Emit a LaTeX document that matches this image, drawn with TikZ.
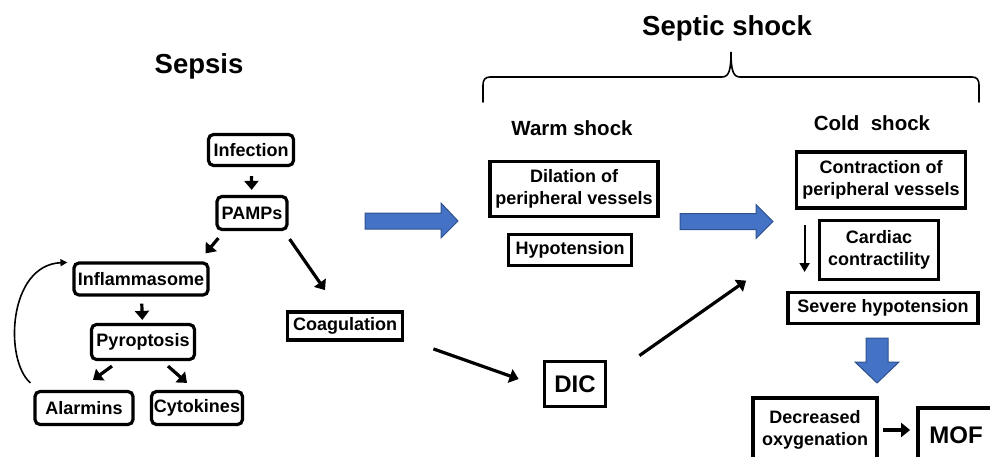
\documentclass[tikz,border=0pt]{standalone}
\usepackage{fontspec}
\setmainfont{Liberation Sans}
\usetikzlibrary{arrows.meta,calc}
\definecolor{shockblue}{HTML}{4472C4}
\definecolor{shockedge}{HTML}{2F528F}

\begin{document}
\begin{tikzpicture}[x=1pt,y=-1pt,
  boxfont/.style={font=\bfseries\fontsize{18}{21.5}\selectfont},
  rbox/.style={draw,rounded corners=5pt,line width=3.2pt,inner sep=0pt,boxfont,align=center},
  sbox/.style={draw,line width=3.8pt,inner sep=0pt,boxfont,align=center},
  heading/.style={font=\bfseries\fontsize{20.5}{24}\selectfont},
  bigtitle/.style={font=\bfseries\fontsize{27.5}{32}\selectfont},
  arr/.style={line width=3.2pt,-{Triangle[length=9pt,width=14pt]}},
  thinarr/.style={line width=2pt,-{Triangle[length=9pt,width=10pt]}},
  fatarrow/.style={fill=shockblue,draw=shockedge,line width=1pt,line join=miter}]
  \useasboundingbox (0,0) rectangle (990,457);
  \clip (0,0) rectangle (990,457);

  % Sepsis side
  \node[bigtitle] (sepsis) at (199,66) {Sepsis};
  \node[rbox,minimum width=85pt,minimum height=31pt] (infection) at (251,150) {Infection};
  \node[rbox,minimum width=70pt,minimum height=33pt] (pamps) at (252,213) {PAMPs};
  \node[rbox,minimum width=134pt,minimum height=32pt] (inflam) at (141,279) {Inflammasome};
  \node[rbox,minimum width=103pt,minimum height=35pt] (pyro) at (143,342) {Pyroptosis};
  \node[rbox,minimum width=98pt,minimum height=33pt] (alarm) at (84,408) {Alarmins};
  \node[rbox,minimum width=91pt,minimum height=33pt] (cyto) at (197,408) {Cytokines};
  \node[sbox,minimum width=115pt,minimum height=28pt] (coag) at (345,326) {Coagulation};
  \node[sbox,minimum width=61pt,minimum height=45pt,font=\bfseries\fontsize{24}{28}\selectfont] (dic) at (575,384) {DIC};

  \draw[arr,shorten <=9pt,shorten >=5pt] (infection) -- (pamps);
  \draw[arr] ($(pamps.south west)+(3,7)$) -- ($(inflam.north east)+(-4,-8)$);
  \draw[arr] ($(pamps.south east)+(1,8)$) -- ($(coag.north)+(-20,-20)$);
  \draw[arr,shorten <=7pt,shorten >=3pt] (inflam) -- (pyro);
  \draw[arr] ($(pyro.south)+(-31,5)$) -- ($(alarm.north)+(9,-10)$);
  \draw[arr] ($(pyro.south)+(25,5)$) -- ($(cyto.north)+(-10,-7)$);
  \draw[line width=1.6pt,-{Triangle[length=7pt,width=7pt]}]
    ($(alarm.north west)+(-3,-7)$) .. controls (4,360) and (8,265) .. ($(inflam.north west)+(-5,1)$);
  \draw[arr] ($(coag.south east)+(29,7)$) -- ($(dic.west)+(-24,-5)$);

  % Septic shock brace
  \node[bigtitle] (septic) at (727,28) {Septic shock};
  \draw[line width=1.6pt,line cap=round]
    (483,102) -- (483,85) .. controls (483,80) and (485,77) .. (490,77) -- (722,77)
    .. controls (729,77) and (731,70) .. (731,52)
    .. controls (731,70) and (733,77) .. (740,77) -- (972,77)
    .. controls (977,77) and (979,80) .. (979,85) -- (979,102);

  % Warm shock
  \node[heading] (warm) at (572,128) {Warm shock};
  \node[sbox,minimum width=168pt,minimum height=55pt] (dilation) at (574,189) {Dilation of\\peripheral vessels};
  \node[sbox,minimum width=123pt,minimum height=31pt] (hypo) at (570,250) {Hypotension};
  \coordinate (warm tail) at (365,221);
  \filldraw[fatarrow] (warm tail) ++(0,-8) -- ++(76,0) -- ++(0,-10) -- ++(17,18)
    -- ++(-17,17) -- ++(0,-9) -- ++(-76,0) -- cycle;
  \coordinate (cold tail) at (680,221.5);
  \filldraw[fatarrow] (cold tail) ++(0,-8) -- ++(76,0) -- ++(0,-9) -- ++(17,17)
    -- ++(-17,17) -- ++(0,-9) -- ++(-76,0) -- cycle;

  % Cold shock
  \node[heading] (cold) at (872,123) {Cold\ \ shock};
  \node[sbox,minimum width=169pt,minimum height=56pt] (contraction) at (881,180) {Contraction of\\peripheral vessels};
  \node[sbox,minimum width=119pt,minimum height=59pt] (cardiac) at (879,250) {Cardiac\\contractility};
  \node[sbox,minimum width=190pt,minimum height=31pt] (severe) at (883,308) {Severe hypotension};
  \node[sbox,minimum width=124pt,minimum height=64pt] (decreased) at (815,430) {Decreased\\oxygenation};
  \node[sbox,minimum width=76pt,minimum height=54pt,font=\bfseries\fontsize{24}{28}\selectfont] (mof) at (956,435) {MOF};

  \draw[thinarr] ($(cardiac.west)+(-13,-25)$) -- ++(0,47);
  \coordinate (dic head) at ($(severe.north west)+(-40,-10)$);
  \draw[arr] ($(dic.north east)+(32,-4)$) -- (dic head);
  \coordinate (mof tail) at (877,338);
  \filldraw[fatarrow] (mof tail) ++(-11,0) -- ++(22,0) -- ++(0,24) -- ++(11,0)
    -- ++(-22,21) -- ++(-22,-21) -- ++(11,0) -- cycle;
  \draw[arr,shorten <=4pt,shorten >=6pt] (decreased) -- (decreased -| mof.west);
\end{tikzpicture}
\end{document}
